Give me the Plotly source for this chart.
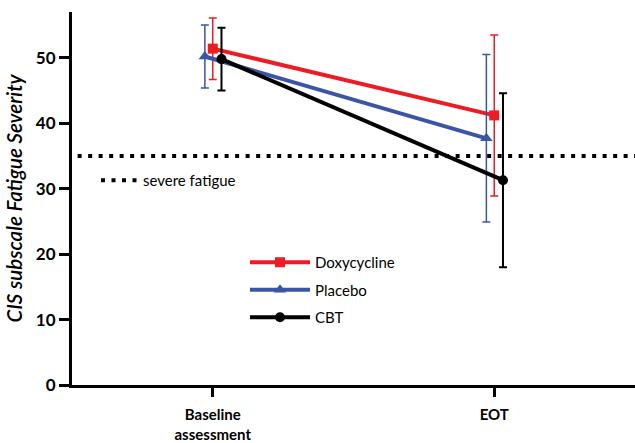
import plotly.graph_objects as go

categories = ["Baseline<br>assessment", "EOT"]
cat_pos = [0, 1]

doxy_mean = [51.4, 41.2]
doxy_err = [4.7, 12.3]
placebo_mean = [50.2, 37.7]
placebo_err = [4.8, 12.8]
cbt_mean = [49.8, 31.3]
cbt_err = [4.8, 13.3]

severe_threshold = 35

offsets = {"Doxycycline": 0.0, "Placebo": -0.028, "CBT": 0.031}

FONT = "Lato"

fig = go.Figure()

fig.add_trace(go.Scatter(
    x=[-0.48, 1.5], y=[severe_threshold, severe_threshold],
    mode="lines", name="severe fatigue",
    line=dict(color="black", width=4, dash="4px,6.5px"),
    legend="legend2", hoverinfo="skip",
))

series = [
    ("Doxycycline", doxy_mean, doxy_err, "#ED1C24", "square", 10, 1.5),
    ("Placebo", placebo_mean, placebo_err, "#3A55A6", "triangle-up", 11, 1.5),
    ("CBT", cbt_mean, cbt_err, "black", "circle", 10, 2),
]

for name, mean, err, color, sym, msize, ew in series:
    fig.add_trace(go.Scatter(
        x=[p + offsets[name] for p in cat_pos], y=mean,
        mode="lines+markers", name=name, legendgroup=name,
        line=dict(color=color, width=4),
        marker=dict(symbol=sym, size=msize, color=color),
        error_y=dict(type="data", array=err, visible=True, color=color,
                     thickness=ew, width=4),
    ))

fig.update_layout(
    width=635, height=443,
    margin=dict(l=72, r=0, t=12, b=58),
    plot_bgcolor="white", paper_bgcolor="white",
    font=dict(family=FONT, color="black"),
    legend=dict(
        x=(245 - 72) / 563, y=(385 - 246) / 373, xanchor="left", yanchor="top",
        font=dict(family=FONT, size=15, color="black"),
        bgcolor="rgba(0,0,0,0)", tracegroupgap=5, itemwidth=60,
    ),
    legend2=dict(
        x=(96 - 72) / 563, y=(385 - 164) / 373, xanchor="left", yanchor="top",
        font=dict(family=FONT, size=15, color="black"),
        bgcolor="rgba(0,0,0,0)", itemwidth=37,
    ),
)

fig.update_xaxes(
    range=[-0.5, 1.5], tickmode="array", tickvals=cat_pos, ticktext=categories,
    showgrid=False, zeroline=False, showline=True, linecolor="black", linewidth=3,
    ticks="outside", ticklen=9, tickwidth=3, tickcolor="black", ticklabelstandoff=5,
    tickfont=dict(family=FONT, size=15, weight="bold", color="black"),
)
fig.update_yaxes(
    range=[0, 57], tickmode="array", tickvals=[0, 10, 20, 30, 40, 50],
    showgrid=False, zeroline=False, showline=True, linecolor="black", linewidth=3,
    ticks="outside", ticklen=10, tickwidth=3, tickcolor="black",
    tickfont=dict(family=FONT, size=17, weight="bold", color="black"),
    title=dict(text="CIS subscale Fatigue Severity", standoff=8,
               font=dict(family=FONT, size=20.5, style="italic", weight=600, color="black")),
)

fig.write_html("out.html", config={"displayModeBar": False},
               post_script="document.body.style.margin='0';")
